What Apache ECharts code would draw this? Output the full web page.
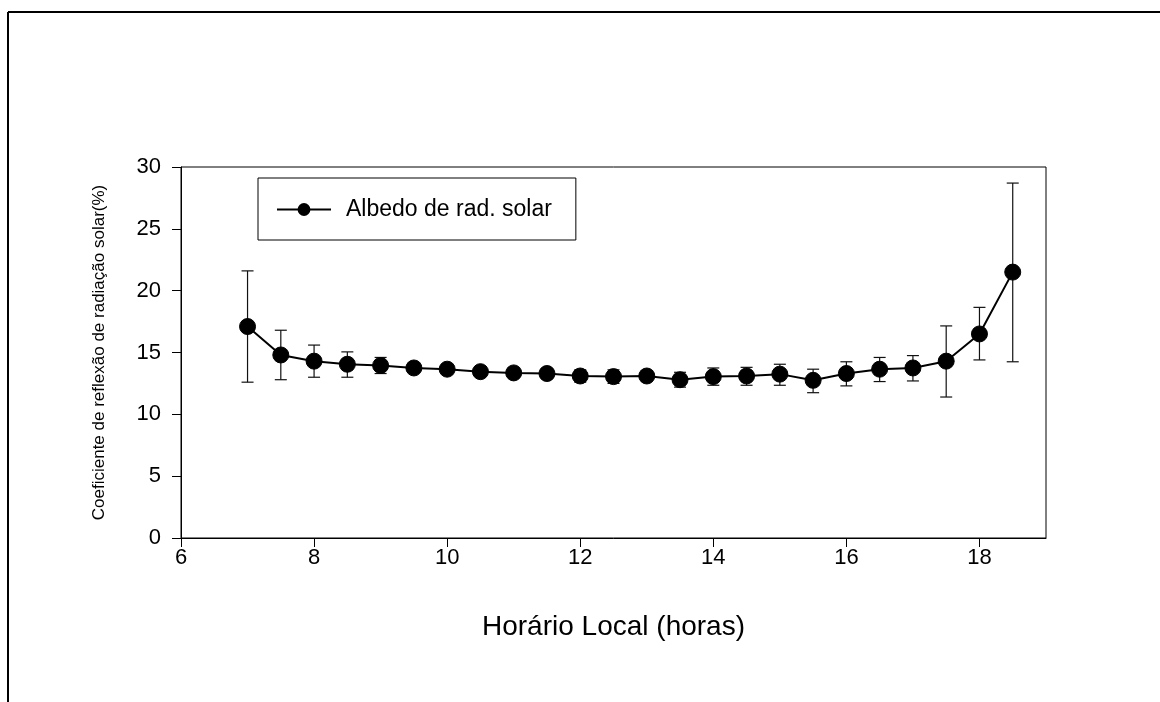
<!DOCTYPE html>
<html>
<head>
<meta charset="utf-8">
<title>Albedo de radiação solar</title>
<script src="https://cdn.jsdelivr.net/npm/echarts@6/dist/echarts.min.js"></script>
<style>
  html, body { margin: 0; padding: 0; background: #fff; }
  #chart { width: 1160px; height: 702px; }
</style>
</head>
<body>
<div id="chart"></div>
<script>
// Hourly mean albedo with standard deviation bars
const hours = [7, 7.5, 8, 8.5, 9, 9.5, 10, 10.5, 11, 11.5, 12, 12.5,
               13, 13.5, 14, 14.5, 15, 15.5, 16, 16.5, 17, 17.5, 18, 18.5];
const albedo = [17.1, 14.8, 14.3, 14.05, 13.95, 13.75, 13.65, 13.45, 13.35, 13.3, 13.1, 13.05,
                13.1, 12.8, 13.05, 13.1, 13.25, 12.75, 13.3, 13.65, 13.75, 14.3, 16.5, 21.5];
const upper = [21.6, 16.8, 15.6, 15.05, 14.6, 14.1, 14.0, 13.8, 13.7, 13.6, 13.6, 13.6,
               13.5, 13.4, 13.75, 13.8, 14.05, 13.65, 14.25, 14.6, 14.75, 17.15, 18.65, 28.7];
const lower = [12.6, 12.8, 13.0, 13.0, 13.3, 13.4, 13.3, 13.1, 13.0, 13.0, 12.6, 12.5,
               12.7, 12.2, 12.35, 12.35, 12.35, 11.75, 12.3, 12.65, 12.7, 11.4, 14.4, 14.25];

const seriesName = 'Albedo de rad. solar';
const xTitle = 'Horário Local (horas)';
const yTitle = 'Coeficiente de reflexão de radiação solar(%)';

const FONT = 'Arial, "Liberation Sans", sans-serif';

const chart = echarts.init(document.getElementById('chart'), null, { renderer: 'canvas' });

const errData = hours.map((h, i) => [h, lower[i], upper[i]]);

chart.setOption({
  backgroundColor: '#ffffff',
  animation: false,
  graphic: [
    // page frame: top and left edges
    { type: 'line', shape: { x1: 8, y1: 12, x2: 1160, y2: 12 }, style: { stroke: '#000', lineWidth: 2 } },
    { type: 'line', shape: { x1: 8, y1: 12, x2: 8, y2: 702 }, style: { stroke: '#000', lineWidth: 2 } }
  ],
  grid: { left: 181, top: 167, right: 114, bottom: 164, show: true, borderColor: '#000', borderWidth: 1 },
  legend: {
    left: 258, top: 178,
    orient: 'vertical',
    data: [seriesName],
    backgroundColor: '#fff',
    borderColor: '#000',
    borderWidth: 1,
    borderRadius: 0,
    padding: [20, 24, 19, 18],
    itemWidth: 54,
    itemHeight: 16,
    textStyle: { fontFamily: FONT, fontSize: 23, color: '#000', padding: [0, 0, 0, 10] }
  },
  xAxis: {
    type: 'value',
    min: 6, max: 19, interval: 2,
    name: xTitle,
    nameLocation: 'middle',
    nameGap: 75,
    nameTextStyle: { fontFamily: FONT, fontSize: 28, color: '#000' },
    axisLine: { show: true, lineStyle: { color: '#000', width: 1 } },
    axisTick: { show: true, inside: false, length: 9, lineStyle: { color: '#000' } },
    axisLabel: {
      fontFamily: FONT, fontSize: 22, color: '#000', margin: 9,
      showMaxLabel: false
    },
    splitLine: { show: false }
  },
  yAxis: {
    type: 'value',
    min: 0, max: 30, interval: 5,
    name: yTitle,
    nameLocation: 'middle',
    nameGap: 73,
    nameTextStyle: { fontFamily: FONT, fontSize: 17, color: '#000' },
    axisLine: { show: true, lineStyle: { color: '#000', width: 1 } },
    axisTick: { show: true, inside: false, length: 9, lineStyle: { color: '#000' } },
    axisLabel: { fontFamily: FONT, fontSize: 22, color: '#000', margin: 20 },
    splitLine: { show: false }
  },
  series: [
    {
      type: 'custom',
      name: 'erro',
      z: 1,
      silent: true,
      data: errData,
      encode: { x: 0, y: [1, 2] },
      renderItem: function (params, api) {
        const x = api.value(0);
        const lo = api.coord([x, api.value(1)]);
        const hi = api.coord([x, api.value(2)]);
        const half = 6;
        const st = { stroke: '#111', lineWidth: 1.2 };
        return {
          type: 'group',
          children: [
            { type: 'line', shape: { x1: lo[0], y1: lo[1], x2: hi[0], y2: hi[1] }, style: st },
            { type: 'line', shape: { x1: hi[0] - half, y1: hi[1], x2: hi[0] + half, y2: hi[1] }, style: st },
            { type: 'line', shape: { x1: lo[0] - half, y1: lo[1], x2: lo[0] + half, y2: lo[1] }, style: st }
          ]
        };
      }
    },
    {
      type: 'line',
      name: seriesName,
      z: 3,
      data: hours.map((h, i) => [h, albedo[i]]),
      symbol: 'circle',
      symbolSize: 16,
      showAllSymbol: true,
      lineStyle: { color: '#000', width: 2 },
      itemStyle: { color: '#000', borderColor: '#000' }
    }
  ]
});
</script>
</body>
</html>
